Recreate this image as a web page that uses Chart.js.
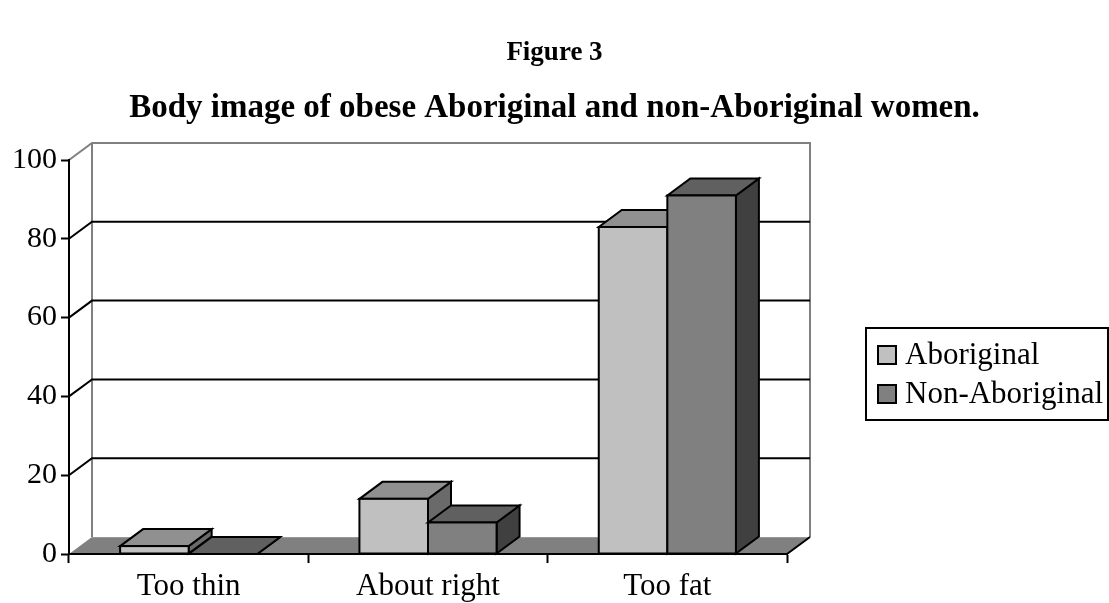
<!DOCTYPE html>
<html>
<head>
<meta charset="utf-8">
<title>Figure 3</title>
<script src="https://cdn.jsdelivr.net/npm/chart.js@4.4.1/dist/chart.umd.min.js"></script>
<style>
  html, body { margin: 0; padding: 0; background: #fff; }
  canvas { display: block; }
</style>
</head>
<body>
<canvas id="chart" width="1109" height="603"></canvas>
<script>
// Data
const categories = ['Too thin', 'About right', 'Too fat'];
const aboriginal = [2, 14, 83];
const nonAboriginal = [0, 8, 91];
const yTicks = [0, 20, 40, 60, 80, 100];
const seriesNames = ['Aboriginal', 'Non-Aboriginal'];

const serif = "'Liberation Serif', 'Times New Roman', serif";

// shades for front / top / side of each series
const faces = [
    { front: '#c0c0c0', top: '#909090', side: '#6a6a6a' },
    { front: '#808080', top: '#606060', side: '#404040' }
];

// depth of the 3d look
const DX = 23;
const DY = -17;

const threeD = {
    id: 'threeD',
    beforeDraw(chart) {
        const { ctx, chartArea: a, scales: { y } } = chart;
        ctx.save();
        ctx.lineWidth = 2;
        ctx.lineCap = 'butt';

        // back wall outline (grey)
        const topY = y.getPixelForValue(yTicks[yTicks.length - 1]);
        ctx.strokeStyle = '#808080';
        ctx.beginPath();
        ctx.moveTo(a.left, topY);
        ctx.lineTo(a.left + DX, topY + DY);
        ctx.lineTo(a.right + DX, topY + DY);
        ctx.lineTo(a.right + DX, a.bottom + DY);
        ctx.moveTo(a.left + DX, topY + DY);
        ctx.lineTo(a.left + DX, a.bottom + DY);
        ctx.stroke();

        // gridlines on side and back wall
        ctx.strokeStyle = '#000';
        yTicks.slice(1, -1).forEach(v => {
            const py = y.getPixelForValue(v);
            ctx.beginPath();
            ctx.moveTo(a.left, py);
            ctx.lineTo(a.left + DX, py + DY);
            ctx.lineTo(a.right + DX, py + DY);
            ctx.stroke();
        });

        // floor
        ctx.fillStyle = '#808080';
        ctx.beginPath();
        ctx.moveTo(a.left, a.bottom);
        ctx.lineTo(a.right, a.bottom);
        ctx.lineTo(a.right + DX, a.bottom + DY);
        ctx.lineTo(a.left + DX, a.bottom + DY);
        ctx.closePath();
        ctx.fill();
        ctx.strokeStyle = '#999';
        ctx.lineWidth = 1;
        ctx.beginPath();
        ctx.moveTo(a.left + DX, a.bottom + DY + 0.5);
        ctx.lineTo(a.right + DX, a.bottom + DY + 0.5);
        ctx.stroke();
        ctx.strokeStyle = '#000';
        ctx.lineWidth = 2;
        ctx.beginPath();
        ctx.moveTo(a.right, a.bottom);
        ctx.lineTo(a.right + DX, a.bottom + DY);
        ctx.stroke();
        ctx.restore();
    },
    afterDatasetsDraw(chart) {
        const { ctx } = chart;
        ctx.save();
        ctx.lineWidth = 2;
        ctx.lineJoin = 'miter';
        ctx.strokeStyle = '#000';
        const metas = chart.data.datasets.map((d, i) => chart.getDatasetMeta(i));
        categories.forEach((c, idx) => {
            metas.forEach((meta, di) => {
                const bar = meta.data[idx];
                const f = faces[di];
                const l = bar.x - bar.width / 2;
                const r = bar.x + bar.width / 2;
                const t = bar.y;
                const b = bar.base;
                // side
                ctx.fillStyle = f.side;
                ctx.beginPath();
                ctx.moveTo(r, t);
                ctx.lineTo(r + DX, t + DY);
                ctx.lineTo(r + DX, b + DY);
                ctx.lineTo(r, b);
                ctx.closePath();
                ctx.fill();
                ctx.stroke();
                // top
                ctx.fillStyle = f.top;
                ctx.beginPath();
                ctx.moveTo(l, t);
                ctx.lineTo(l + DX, t + DY);
                ctx.lineTo(r + DX, t + DY);
                ctx.lineTo(r, t);
                ctx.closePath();
                ctx.fill();
                ctx.stroke();
                // front
                if (b - t > 0.5) {
                    ctx.fillStyle = f.front;
                    ctx.fillRect(l, t, r - l, b - t);
                    ctx.strokeRect(l, t, r - l, b - t);
                }
            });
        });
        ctx.restore();
    },
    afterDraw(chart) {
        // legend box at the right
        const { ctx } = chart;
        ctx.save();
        ctx.lineWidth = 2;
        ctx.strokeStyle = '#000';
        ctx.strokeRect(866, 328, 242, 92);
        ctx.font = '31px ' + serif;
        ctx.textBaseline = 'middle';
        ctx.textAlign = 'left';
        chart.data.datasets.forEach((ds, i) => {
            const cy = 355 + i * 39;
            ctx.fillStyle = faces[i].front;
            ctx.fillRect(878, cy - 9, 18, 18);
            ctx.strokeRect(878, cy - 9, 18, 18);
            ctx.fillStyle = '#000';
            ctx.fillText(ds.label, 905, cy + 1);
        });
        ctx.restore();
    }
};

const ctx = document.getElementById('chart').getContext('2d');
const chart = new Chart(ctx, {
    type: 'bar',
    data: {
        labels: categories,
        datasets: [
            {
                label: seriesNames[0],
                data: aboriginal,
                backgroundColor: 'rgba(0,0,0,0)',
                borderWidth: 0
            },
            {
                label: seriesNames[1],
                data: nonAboriginal,
                backgroundColor: 'rgba(0,0,0,0)',
                borderWidth: 0
            }
        ]
    },
    options: {
        responsive: false,
        animation: false,
        devicePixelRatio: 1,
        categoryPercentage: 0.573,
        barPercentage: 1,
        layout: { padding: 0 },
        plugins: {
            legend: { display: false },
            tooltip: { enabled: false },
            title: {
                display: true,
                text: 'Figure 3',
                color: '#000',
                font: { family: serif, size: 27, weight: 'bold', lineHeight: 1.2 },
                padding: { top: 37, bottom: 19 }
            },
            subtitle: {
                display: true,
                text: 'Body image of obese Aboriginal and non-Aboriginal women.',
                color: '#000',
                font: { family: serif, size: 33, weight: 'bold', lineHeight: 1.2 },
                padding: { top: 0, bottom: 32 }
            }
        },
        scales: {
            x: {
                grid: {
                    drawOnChartArea: false,
                    drawTicks: true,
                    tickLength: 9,
                    tickColor: '#000',
                    tickWidth: 2
                },
                border: { display: true, color: '#000', width: 2 },
                ticks: {
                    color: '#000',
                    font: { family: serif, size: 31 },
                    padding: 5,
                    maxRotation: 0
                },
                afterFit(scale) { scale.height = 49; }
            },
            y: {
                min: yTicks[0],
                max: yTicks[yTicks.length - 1],
                grid: {
                    drawOnChartArea: false,
                    drawTicks: true,
                    tickLength: 8,
                    tickColor: '#000',
                    tickWidth: 2
                },
                border: { display: true, color: '#000', width: 2 },
                ticks: {
                    stepSize: yTicks[1] - yTicks[0],
                    color: '#000',
                    font: { family: serif, size: 30 },
                    padding: 4
                },
                afterFit(scale) { scale.width = 69; }
            },
            side: {
                position: 'right',
                display: true,
                grid: { display: false },
                border: { display: false },
                ticks: { display: false },
                afterFit(scale) { scale.width = 1109 - 787; }
            }
        }
    },
    plugins: [threeD]
});
</script>
</body>
</html>
